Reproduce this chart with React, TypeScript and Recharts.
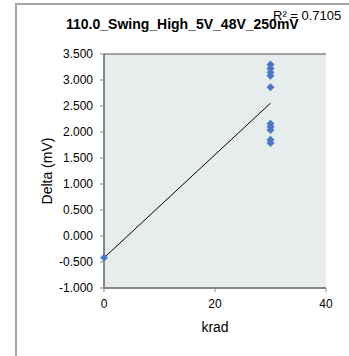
import {
  CartesianGrid,
  Scatter,
  ScatterChart,
  XAxis,
  YAxis,
} from 'recharts';

const doses = [0, 30, 30, 30, 30, 30, 30, 30, 30, 30, 30];
const deltas = [-0.42, 3.3, 3.22, 3.15, 3.08, 2.86, 2.16, 2.1, 2.04, 1.85, 1.79];
const yTicks = [-1, -0.5, 0, 0.5, 1, 1.5, 2, 2.5, 3, 3.5];
const xTicks = [0, 20, 40];

const title = '110.0_Swing_High_5V_48V_250mV';
const rSquared = 'R² = 0.7105';

const points = doses.map((krad, i) => ({ krad, delta: deltas[i] }));

const font = '"Liberation Sans", Arial, sans-serif';
const blue = '#4a78c6';

function Diamond(props: any) {
  const { cx, cy } = props;
  if (cx == null || cy == null) return null;
  const r = 4;
  return (
    <polygon
      points={`${cx},${cy - r} ${cx + r},${cy} ${cx},${cy + r} ${cx - r},${cy}`}
      fill={blue}
    />
  );
}

export default function App() {
  return (
    <div
      style={{
        position: 'absolute',
        left: 0,
        top: 0,
        width: 349,
        height: 356,
        overflow: 'hidden',
        background: '#fff',
        fontFamily: font,
      }}
    >
      <div
        style={{
          position: 'absolute',
          left: 15,
          top: 3,
          width: 400,
          height: 400,
          borderLeft: '2px solid #a6a6a6',
          borderTop: '2px solid #a6a6a6',
        }}
      />
      <div
        style={{
          position: 'absolute',
          left: 66,
          top: 16,
          fontSize: 14,
          fontWeight: 'bold',
          color: '#000',
          whiteSpace: 'nowrap',
        }}
      >
        {title}
      </div>
      <div
        style={{
          position: 'absolute',
          left: 273,
          top: 8,
          fontSize: 13,
          color: '#000',
          whiteSpace: 'nowrap',
        }}
      >
        {rSquared}
      </div>
      <div style={{ position: 'absolute', left: 0, top: 0 }}>
        <ScatterChart
          width={349}
          height={356}
          margin={{ top: 54, right: 23, bottom: 28, left: 0 }}
        >
          <CartesianGrid
            vertical={false}
            stroke="#868686"
            strokeWidth={1.5}
            fill="#e7ecec"
          />
          <XAxis
            xAxisId="main"
            type="number"
            dataKey="krad"
            domain={[0, 40]}
            ticks={xTicks}
            height={40}
            tickSize={4}
            tickMargin={7}
            axisLine={{ stroke: '#868686', strokeWidth: 2 }}
            tickLine={{ stroke: '#868686' }}
            tick={{ fill: '#000', fontSize: 12, fontFamily: font }}
            label={{
              value: 'krad',
              position: 'center',
              dy: 19,
              fill: '#000',
              fontSize: 14,
              fontFamily: font,
            }}
          />
          <XAxis
            xAxisId="top"
            orientation="top"
            type="number"
            dataKey="krad"
            domain={[0, 40]}
            height={0}
            tick={false}
            tickLine={false}
            axisLine={{ stroke: '#000', strokeWidth: 2 }}
          />
          <YAxis
            yAxisId="main"
            type="number"
            dataKey="delta"
            domain={[-1, 3.5]}
            ticks={yTicks}
            width={104}
            tickSize={4}
            tickMargin={7}
            tickFormatter={(v: number) => v.toFixed(3)}
            axisLine={{ stroke: '#868686', strokeWidth: 2 }}
            tickLine={{ stroke: '#868686' }}
            tick={{ fill: '#000', fontSize: 12, fontFamily: font }}
            label={{
              value: 'Delta (mV)',
              angle: -90,
              position: 'center',
              dx: -5,
              fill: '#000',
              fontSize: 14,
              fontFamily: font,
            }}
          />
          <YAxis
            yAxisId="right"
            orientation="right"
            type="number"
            dataKey="delta"
            domain={[-1, 3.5]}
            width={0}
            tick={false}
            tickLine={false}
            axisLine={{ stroke: '#000', strokeWidth: 2 }}
          />
          <Scatter
            xAxisId="main"
            yAxisId="main"
            data={points}
            shape={Diamond}
            line={{ stroke: '#000', strokeWidth: 1 }}
            lineType="fitting"
            isAnimationActive={false}
          />
        </ScatterChart>
      </div>
    </div>
  );
}
